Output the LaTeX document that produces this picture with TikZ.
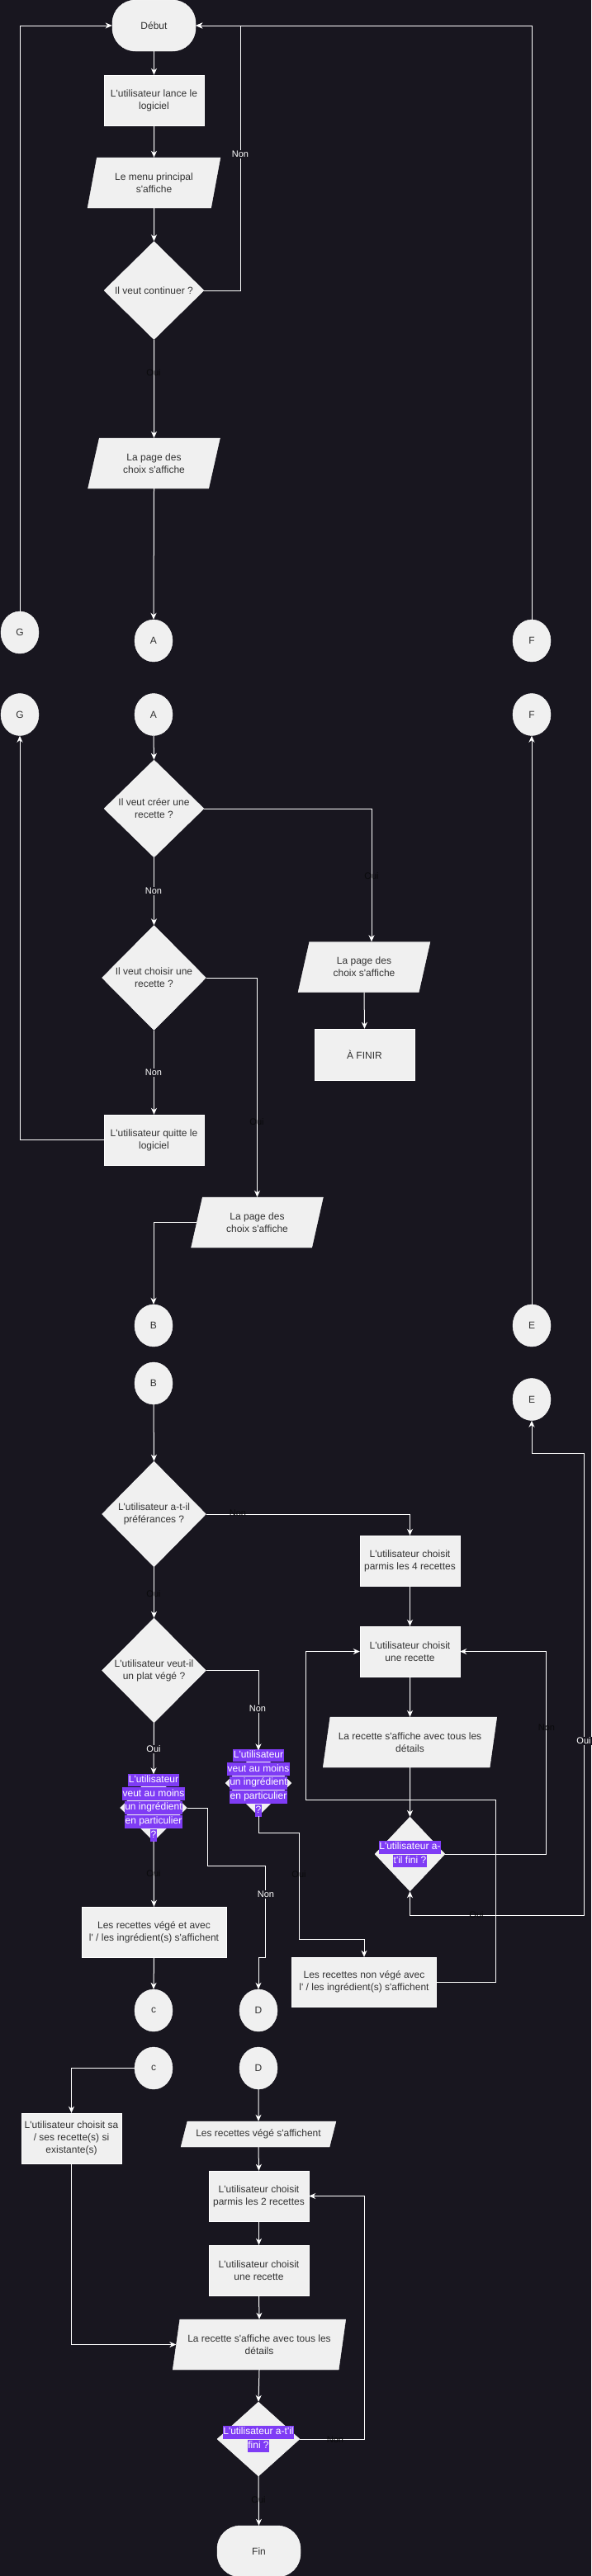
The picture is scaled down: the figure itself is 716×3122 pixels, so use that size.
\documentclass[tikz,border=0pt]{standalone}
\usepackage{fontspec}
\setmainfont{Liberation Sans}[Ligatures=TeXOff]
\usetikzlibrary{shapes.geometric,arrows.meta}

\definecolor{bgdark}{RGB}{24,22,31}
\definecolor{boxfill}{RGB}{240,240,240}
\definecolor{boxtext}{RGB}{51,51,51}
\definecolor{hlviolet}{RGB}{127,60,245}
\definecolor{lbldark}{RGB}{10,10,12}
\newcommand{\boxfont}{\fontsize{12}{15}\selectfont}
\newcommand{\hlfont}{\fontsize{12}{14.5}\selectfont}
\newcommand{\lblfont}{\fontsize{11}{13}\selectfont}
\newcommand{\hl}[1]{{\setlength{\fboxsep}{0.6pt}\colorbox{hlviolet}{\strut\textcolor{white}{#1}}}}

\begin{document}
\begin{tikzpicture}[x=1pt,y=-1pt,
  term/.style={rectangle,rounded corners=28pt,draw=white,fill=boxfill,minimum width=101pt,minimum height=62pt,inner sep=0pt,text=boxtext,font=\boxfont},
  proc/.style={rectangle,draw=white,fill=boxfill,minimum width=121pt,minimum height=61pt,inner sep=0pt,align=center,text=boxtext,font=\boxfont},
  io/.style={trapezium,trapezium left angle=72,trapezium right angle=108,trapezium stretches=true,draw=white,fill=boxfill,minimum width=161pt,minimum height=61pt,inner sep=0pt,align=center,text=boxtext,font=\boxfont},
  decide/.style={diamond,draw=white,fill=boxfill,inner sep=0pt},
  dtext/.style={align=center,text=boxtext,font=\boxfont},
  dhl/.style={align=center,font=\hlfont},
  conn/.style={ellipse,draw=white,fill=boxfill,minimum width=46pt,minimum height=51pt,inner sep=0pt,text=boxtext,font=\boxfont},
  arr/.style={white,line width=1pt,-{Stealth[length=8pt,width=7pt,inset=2.5pt]}},
  arrboth/.style={white,line width=1pt,{Stealth[length=8pt,width=7pt,inset=2.5pt]}-{Stealth[length=8pt,width=7pt,inset=2.5pt]}},
  lbl/.style={text=white,fill=bgdark,inner sep=1pt,font=\lblfont},
  lbldk/.style={text=lbldark,inner sep=1pt,font=\lblfont}]
% Background (716x3122)
\fill[bgdark] (0,0) rectangle (716,3122);
\useasboundingbox (0,0) rectangle (716,3122);
% Start and main menu
\draw (186.5,31) node[term] (debut) {Début};
\draw (186.5,121.5) node[proc] (lance) {L'utilisateur lance le\\logiciel};
\draw (186.5,221.5) node[io] (menu) {Le menu principal\\s'affiche};
\draw (186.5,352) node[decide,minimum width=121pt,minimum height=119pt,label={[dtext]center:Il veut continuer ?}] (cont) {};
\draw (186.5,561.5) node[io] (page1) {La page des\\choix s'affiche};
% Connectors G, A, F
\draw (24,766.5) node[conn] (G1) {G};
\draw (186,776.5) node[conn] (A1) {A};
\draw (644,776.5) node[conn] (F1) {F};
\draw (24,866) node[conn] (G2) {G};
\draw (186,866) node[conn] (A2) {A};
\draw (644,866) node[conn] (F2) {F};
% Choices page
\draw (186.5,980) node[decide,minimum width=121pt,minimum height=118pt,label={[dtext]center:{Il veut créer une\\recette ?}}] (creer) {};
\draw (186.5,1185) node[decide,minimum width=126pt,minimum height=127pt,label={[dtext]center:{Il veut choisir une\\recette ?}}] (choisir) {};
\draw (441,1172) node[io] (page2) {La page des\\choix s'affiche};
\draw (441.5,1278) node[proc,minimum height=62pt] (afinir) {À FINIR};
\draw (186.5,1381.5) node[proc] (quitte) {L'utilisateur quitte le\\logiciel};
\draw (311.5,1481.5) node[io] (page3) {La page des\\choix s'affiche};
% Connectors B, E
\draw (186,1606.5) node[conn] (B1) {B};
\draw (644,1606.5) node[conn] (E1) {E};
\draw (186,1676.5) node[conn] (B2) {B};
\draw (644,1696) node[conn] (E2) {E};
% Preferences
\draw (186.5,1835) node[decide,minimum width=126pt,minimum height=128pt,label={[dtext]center:{L'utilisateur a-t-il\\préférances ?}}] (pref) {};
\draw (496.5,1891.5) node[proc] (pick4) {L'utilisateur choisit\\parmis les 4 recettes};
\draw (496.5,2001.5) node[proc] (pick1) {L'utilisateur choisit\\une recette};
\draw (186.5,2024.5) node[decide,minimum width=126pt,minimum height=127pt,label={[dtext]center:{L'utilisateur veut-il\\un plat végé ?}}] (vege) {};
\draw (496.5,2111.5) node[io,minimum width=211pt] (show1) {La recette s'affiche avec tous les\\détails};
\draw (186,2191) node[decide,minimum width=81pt,minimum height=81pt,label={[dhl]center:{\hl{L'utilisateur}\\\hl{veut au moins}\\\hl{un ingrédient}\\\hl{en particulier}\\\hl{?}}}] (ing1) {};
\draw (313,2161) node[decide,minimum width=80pt,minimum height=79pt,label={[dhl]center:{\hl{L'utilisateur}\\\hl{veut au moins}\\\hl{un ingrédient}\\\hl{en particulier}\\\hl{?}}}] (ing2) {};
\draw (496.5,2247) node[decide,minimum width=85pt,minimum height=90pt,label={[dhl]center:{\hl{L'utilisateur a-}\\\hl{t'il fini ?}}}] (fini1) {};
\draw (186.5,2341.5) node[proc,minimum width=175pt] (vegeing) {Les recettes végé et avec\\l' / les ingrédient(s) s'affichent};
\draw (441,2402) node[proc,minimum width=175pt,minimum height=60pt] (nonvege) {Les recettes non végé avec\\l' / les ingrédient(s) s'affichent};
% Connectors c, D
\draw (186,2436.5) node[conn] (C1) {c};
\draw (313,2436.5) node[conn] (D1) {D};
\draw (186,2506.5) node[conn] (C2) {c};
\draw (313,2506.5) node[conn] (D2) {D};
% End part
\draw (86.5,2591.5) node[proc] (sa) {L'utilisateur choisit sa\\/ ses recette(s) si\\existante(s)};
\draw (313,2586.5) node[io,trapezium left angle=58.5,trapezium right angle=121.5,minimum width=188pt,minimum height=31pt] (vege2) {Les recettes végé s'affichent};
\draw (313.5,2661.5) node[proc] (pick2) {L'utilisateur choisit\\parmis les 2 recettes};
\draw (313.5,2751.5) node[proc] (pick1b) {L'utilisateur choisit\\une recette};
\draw (314,2841.5) node[io,minimum width=210pt] (show2) {La recette s'affiche avec tous les\\détails};
\draw (313,2956) node[decide,minimum width=100pt,minimum height=90pt,label={[dhl]center:{\hl{L'utilisateur a-t'il}\\\hl{fini ?}}}] (fini2) {};
\draw (313.5,3092) node[term] (fin) {Fin};
% Arrows
\draw[arr] (debut.south) -- (lance.north);
\draw[arr] (lance.south) -- (menu.north);
\draw[arr] (menu.south) -- (cont.north);
\draw[arr] (cont.east) -- ++(44,0) |- (debut.east);
\draw[arr] (cont.south) -- (page1.north);
\draw[arr] (page1.south) -- (A1.north);
\draw[arr] (G1.north) |- (debut.west);
\draw[arr] (F1.north) |- (debut.east);
\draw[arr] (A2.south) -- (creer.north);
\draw[arr] (creer.east) -| ([xshift=9pt]page2.north);
\draw[arr] (creer.south) -- (choisir.north);
\draw[arr] (choisir.east) -| (page3.north);
\draw[arr] (choisir.south) -- (quitte.north);
\draw[arr] (page2.south) -- (afinir.north);
\draw[arr] (quitte.west) -| (G2.south);
\draw[arr] (page3.west) -| (B1.north);
\draw[arr] (E1.north) -- (F2.south);
\draw[arr] (B2.south) -- (pref.north);
\draw[arr] (pref.east) -| (pick4.north);
\draw[arr] (pref.south) -- (vege.north);
\draw[arr] (pick4.south) -- (pick1.north);
\draw[arr] (pick1.south) -- (show1.north);
\draw[arr] (show1.south) -- (fini1.north);
\draw[arr] (fini1.east) -- ++(122,0) |- (pick1.east);
\draw[arr] (nonvege.east) -- ++(72,0) -- ++(0,-221) -- ++(-230,0) |- (pick1.west);
\draw[arrboth] (fini1.south) -- ++(0,29) -- ++(210.5,0) -- ++(0,-560) -| (E2.south);
\draw[arr] (vege.east) -| (ing2.north);
\draw[arr] (vege.south) -- (ing1.north);
\draw[arr] (ing1.east) -- ++(25,0) -- ++(0,70) -- ++(70,0) -- ++(0,111) -| (D1.north);
\draw[arr] (ing1.south) -- (vegeing.north);
\draw[arr] (ing2.south) -- ++(0,21) -- ++(49,0) -- ++(0,129) -| (nonvege.north);
\draw[arr] (vegeing.south) -- (C1.north);
\draw[arr] (C2.west) -| (sa.north);
\draw[arr] (D2.south) -- (vege2.north);
\draw[arr] (sa.south) |- (show2.west);
\draw[arr] (vege2.south) -- (pick2.north);
\draw[arr] (pick2.south) -- (pick1b.north);
\draw[arr] (pick1b.south) -- (show2.north);
\draw[arr] (show2.south) -- (fini2.north);
\draw[arr] (fini2.east) -- ++(78,0) |- (pick2.east);
\draw[arr] (fini2.south) -- (fin.north);
% Arrow labels
\draw (291,187) node[lbl] (l1) {Non};
\draw (186,452) node[lbldk] (l2) {Oui};
\draw (450,1062) node[lbldk] (l3) {Oui};
\draw (186,1080) node[lbl] (l4) {Non};
\draw (186,1300) node[lbl] (l5) {Non};
\draw (311,1360) node[lbldk] (l6) {Oui};
\draw (288,1834) node[lbldk] (l7) {Non};
\draw (186,1932) node[lbldk] (l8) {Oui};
\draw (312,2071) node[lbl] (l9) {Non};
\draw (186,2120) node[lbl] (l10) {Oui};
\draw (662,2094) node[lbldk] (l11) {Non};
\draw (707,2110) node[lbl] (l12) {Oui};
\draw (577,2321) node[lbldk] (l13) {Oui};
\draw (322,2296) node[lbl] (l14) {Non};
\draw (186,2271) node[lbldk] (l15) {Oui};
\draw (362,2272) node[lbldk] (l16) {Oui};
\draw (406,2957) node[lbldk] (l17) {Non};
\draw (313,3030) node[lbldk] (l18) {Oui};
\end{tikzpicture}
\end{document}
